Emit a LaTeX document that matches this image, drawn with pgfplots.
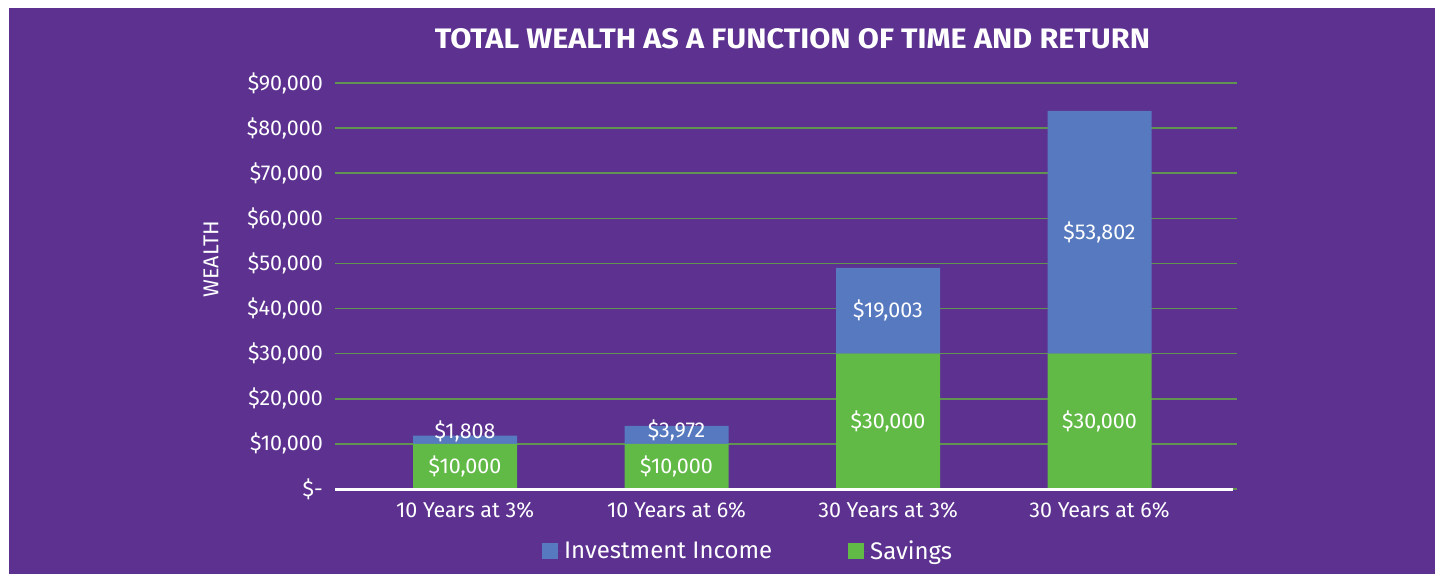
\documentclass[border=0pt]{standalone}
\usepackage{pgfplots}
\pgfplotsset{compat=1.18}
\usepackage{graphicx}
\usepackage{fontspec}
\setmainfont{Fira Sans}
\definecolor{bg}{RGB}{92,49,144}
\definecolor{inv}{RGB}{87,121,191}
\definecolor{sav}{RGB}{97,186,70}
\definecolor{grd}{RGB}{96,148,80}
\tikzset{dl/.style={white, font=\fontsize{21.5}{24}\selectfont}}
\pgfplotsset{frame/.style={
  at={(335pt,85pt)}, anchor=south west,
  scale only axis, width=902pt, height=406pt,
  xmin=-0.615, xmax=3.65, ymin=0, ymax=90000, clip=false}}
\begin{document}
\begin{tikzpicture}
\fill[white] (0pt,0pt) rectangle (1435pt,574pt);
\fill[bg] (9pt,0pt) rectangle (1435pt,566pt);
\useasboundingbox (0pt,0pt) rectangle (1435pt,574pt);
\node[anchor=base, white, inner sep=0pt] at (792.5pt,525pt) {\resizebox{715pt}{20pt}{\bfseries TOTAL WEALTH AS A FUNCTION OF TIME AND RETURN}};
\begin{axis}[
  frame,
  ybar stacked, bar width=104pt,
  scaled y ticks=false,
  xtick={0,1,2,3},
  xticklabels={10 Years at 3\%,10 Years at 6\%,30 Years at 3\%,30 Years at 6\%},
  ytick={0,10000,20000,30000,40000,50000,60000,70000,80000,90000},
  yticklabels={{\$-},{\$10,000},{\$20,000},{\$30,000},{\$40,000},{\$50,000},{\$60,000},{\$70,000},{\$80,000},{\$90,000}},
  ymajorgrids, grid style={grd, line width=1.5pt},
  axis line style={draw=none}, major tick length=0pt,
  tick label style={white, font=\fontsize{21.5}{24}\selectfont},
  yticklabel style={anchor=east, inner sep=0pt, xshift=-12pt},
  xticklabel style={anchor=north, inner sep=0pt, yshift=-13pt},
  ylabel={WEALTH},
  ylabel style={white, font=\fontsize{21.5}{24}\selectfont, at={(axis description cs:-0.1375,0.566)}, anchor=center},
  legend style={at={(axis description cs:0.458,-0.153)}, anchor=center, draw=none, fill=none, text=white,
    font=\fontsize{24}{28}\selectfont, /tikz/every even column/.append style={column sep=74pt}},
  legend columns=2, reverse legend,
  legend image code/.code={\fill[#1] (0pt,-8pt) rectangle (16pt,8pt); \path (0pt,0pt) -- (20pt,0pt);},
]
\addplot[fill=sav, draw=none]
  coordinates {(0,10000) (1,10000) (2,30000) (3,30000)};
\addlegendentry{Savings}
\addplot[fill=inv, draw=none]
  coordinates {(0,1808) (1,3972) (2,19003) (3,53802)};
\addlegendentry{Investment Income}
\end{axis}
\begin{axis}[frame, hide axis]
\draw[white, line width=3pt] (axis cs:-0.615,0) -- (axis cs:3.63,0);
\addplot[only marks, mark=none, nodes near coords, point meta=explicit symbolic,
  every node near coord/.style={dl, anchor=center}]
  coordinates {(0,5000)[\$10,000] (1,5000)[\$10,000] (2,15000)[\$30,000] (3,15000)[\$30,000]
               (0,12700)[\$1,808] (1,12900)[\$3,972] (2,39500)[\$19,003] (3,56900)[\$53,802]};
\end{axis}
\end{tikzpicture}
\end{document}
